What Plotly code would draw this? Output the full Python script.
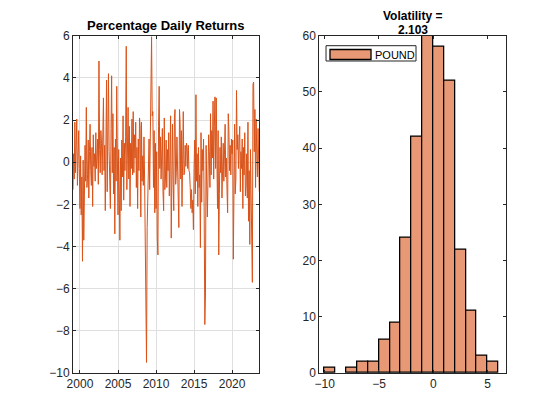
import pandas as pd
import plotly.graph_objects as go

# Monthly percentage returns (Feb 1999 .. Aug 2023)
y1999 = [-1.3, 0.4, -0.8, 1.9, -0.5, 1.2, 2.05, -1.1, 0.6, 1.5, -0.3]
y2000 = [-2.2, 0.3, -2.5, -0.7, -4.7, 0.1, -3.7, -1.6, 0.8, -0.9, 2.6, -1.2]
y2001 = [-0.6, 1.05, -1.7, 0.5, 1.8, -0.4, -1.1, 0.7, -2.1, 1.3, -0.2, 0.4]
y2002 = [-0.9, 1.4, -0.3, 0.2, 1.1, -1.05, 4.8, 0.6, -0.5, 1.5, 0.9, -0.6]
y2003 = [1.3, 3.05, -0.4, 0.8, -2.3, 2.4, 3.9, -1.4, 1.7, 4.2, 0.5, -0.8]
y2004 = [-2.2, 1.6, 4.1, -0.5, 2.3, -1.5, 0.7, -3.4, 1.1, -0.9, 3.6, 0.3]
y2005 = [-2.5, 0.6, -1.3, -3.7, 0.2, -2.3, 1.05, -0.7, 2.2, -1.8, 0.9, -0.4]
y2006 = [1.2, 5.5, -1.3, 0.4, 2.6, -0.8, 1.7, -2.1, 0.9, -0.3, 2.05, -0.6]
y2007 = [2.4, -0.5, 1.3, 0.2, 1.9, -1.2, 0.7, -2.2, 1.1, -0.4, 2.1, 1.6]
y2008 = [-2.6, 1.9, -0.9, 0.3, -1.1, 1.2, -0.8, -5.2, -6.1, -9.5, -3.1, -1.7]
y2009 = [-0.4, 1.1, -1.3, 0.8, 3.6, 5.95, 2.2, 2.4, -1.2, 1.5, -2.4, 0.9]
y2010 = [-2.2, 0.5, -3.6, -4.4, 1.7, 3.6, -0.3, 1.2, -0.8, 0.4, 1.6, -1.4]
y2011 = [-2.3, 2.1, -1.3, -0.7, 1.05, -1.2, 0.6, -0.4, 1.4, -1.6, 0.2, 2.2]
y2012 = [-3.6, 0.4, 1.8, -0.9, -2.3, 2.1, 2.5, -1.05, -0.5, 1.2, 0.1, -1.5]
y2013 = [-3.1, 2.5, 1.9, -0.8, 1.5, -2.1, 0.3, 2.4, -0.6, -0.5, 0.8, -0.2]
y2014 = [0.9, 0.7, -0.3, 0.8, -0.4, -0.5, -1.2, -2.2, -1.3, -2.4, -1.8, -3.2]
y2015 = [-0.3, 1.05, -1.5, 3.2, -0.9, 0.4, -2.1, 0.7, -1.2, -0.6, -4.05, 1.4]
y2016 = [-1.9, 0.6, -0.4, 1.1, -2.5, -7.7, -6.3, 0.8, -1.1, -2.6, -0.7, 1.3]
y2017 = [0.5, -1.2, 2.3, -0.6, 1.5, 0.2, 2.9, -0.8, 1.7, 3.1, -0.3, 3.05]
y2018 = [0.3, -2.2, 1.5, -4.4, -1.5, 0.7, -0.5, 1.2, -1.7, -0.2, 0.9, -0.9]
y2019 = [0.5, 1.8, -0.7, 0.2, -1.3, -2.4, 2.3, 1.5, -0.4, 0.8, -0.6, 1.1]
y2020 = [0.4, 1.05, -4.6, -0.5, 1.8, -1.5, -0.8, 3.4, 0.6, 1.3, -0.3, 0.9]
y2021 = [1.7, -1.4, 0.5, -0.3, 1.1, -2.2, 0.7, -0.6, 1.4, -1.6, -1.1, 0.4]
y2022 = [-1.7, 1.9, -2.8, -0.4, -3.9, 0.6, -1.2, -4.2, -5.7, 3.7, 3.8, 0.5]
y2023 = [2.5, -1.2, 2.05, 0.4, -0.7, 1.6, 0.3, -1.4]

returns = (y1999 + y2000 + y2001 + y2002 + y2003 + y2004 + y2005 + y2006 + y2007
           + y2008 + y2009 + y2010 + y2011 + y2012 + y2013 + y2014 + y2015 + y2016
           + y2017 + y2018 + y2019 + y2020 + y2021 + y2022 + y2023)
dates = pd.date_range("1999-02-01", periods=len(returns), freq="MS")

year_ticks = ["2000-01-01", "2005-01-01", "2010-01-01", "2015-01-01", "2020-01-01"]
year_labels = ["2000", "2005", "2010", "2015", "2020"]
series_name = "POUND"
left_title = "Percentage Daily Returns"
vol_line1 = "Volatility ="
vol_line2 = "2.103"

LINE = "#D95319"
BAR = "#E89875"
AX = "#262626"
FONT = "Liberation Sans, Arial, sans-serif"

fig = go.Figure()
fig.add_trace(go.Scatter(x=dates, y=returns, mode="lines",
                         line=dict(color=LINE, width=1), showlegend=False,
                         xaxis="x", yaxis="y"))
fig.add_trace(go.Histogram(x=returns, xbins=dict(start=-10, end=6, size=1),
                           marker=dict(color=BAR, line=dict(color="#000000", width=1.3)),
                           name=series_name, showlegend=False,
                           xaxis="x2", yaxis="y2"))

ydom = [0.0965, 0.9314]
common = dict(showline=True, linecolor=AX, linewidth=1, mirror="ticks",
              ticks="inside", ticklen=3, tickcolor=AX, tickwidth=1, automargin=False,
              tickfont=dict(family=FONT, size=12, color=AX), zeroline=False)

fig.update_layout(
    template="none",
    width=544, height=404,
    margin=dict(l=0, r=0, t=0, b=0, pad=0),
    paper_bgcolor="white", plot_bgcolor="white",
    font=dict(family=FONT, color=AX),
    bargap=0,
    showlegend=False,
    xaxis=dict(domain=[0.1195, 0.4620], anchor="y", type="date",
               range=[dates[0], dates[-1]], tickvals=year_ticks, ticktext=year_labels,
               showgrid=True, gridcolor="#DFDFDF", gridwidth=1, **common),
    yaxis=dict(domain=ydom, anchor="x", range=[-10, 6], tickvals=list(range(-10, 7, 2)),
               showgrid=True, gridcolor="#DFDFDF", gridwidth=1, **common),
    xaxis2=dict(domain=[0.5722, 0.9154], anchor="y2", range=[-10.5, 6.7],
                tickvals=[-10, -5, 0, 5], showgrid=False, **common),
    yaxis2=dict(domain=ydom, anchor="x2", range=[0, 60], tickvals=list(range(0, 61, 10)),
                showgrid=False, **common),
    shapes=[
        # legend box and swatch for the histogram series
        dict(type="rect", xref="paper", yref="paper", x0=0.5846, x1=0.75,
             y0=0.8688, y1=0.9067, line=dict(color=AX, width=1), fillcolor="white"),
        dict(type="rect", xref="paper", yref="paper", x0=0.5919, x1=0.6673,
             y0=0.8725, y1=0.8973, line=dict(color="#000000", width=1.3), fillcolor=BAR),
    ],
    annotations=[
        dict(text=series_name, x=0.6710, y=0.8849, xref="paper", yref="paper",
             xanchor="left", yanchor="middle", showarrow=False,
             font=dict(family=FONT, size=11, color="#000000")),
        dict(text="<b>%s</b>" % left_title, x=0.2904, y=0.9579, xref="paper", yref="paper",
             xanchor="center", yanchor="middle", showarrow=False,
             font=dict(family=FONT, size=13, color="#000000")),
        dict(text="<b>%s</b>" % vol_line1, x=0.7436, y=1.0, xref="paper", yref="paper",
             xanchor="center", yanchor="top", showarrow=False, borderpad=0,
             font=dict(family=FONT, size=12, color="#000000")),
        dict(text="<b>%s</b>" % vol_line2, x=0.7436, y=1 - 22 / 404, xref="paper", yref="paper",
             xanchor="center", yanchor="middle", showarrow=False, borderpad=0,
             font=dict(family=FONT, size=12, color="#000000")),
    ],
)

fig.write_html("out.html")
